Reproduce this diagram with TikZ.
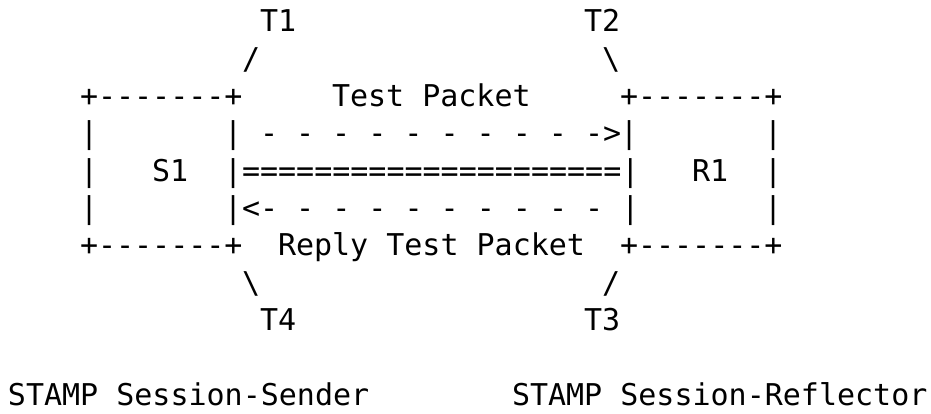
\documentclass[tikz,border=0pt]{standalone}
\usepackage{fontspec}
\setmonofont{DejaVu Sans Mono}
\begin{document}
\begin{tikzpicture}
\tikzset{asc/.style={font=\ttfamily\fontsize{30}{36}\selectfont, inner sep=0pt, outer sep=0pt, anchor=base west, text=black}}
\useasboundingbox[fill=white] (0pt,0pt) rectangle (931pt,-414pt);
\begin{scope}[shift={(8pt,-32pt)}, x=18pt, y=-37.3pt]
% row 0
\node[asc] (t1) at (14,0) {T1};
\node[asc] (t2) at (32,0) {T2};
% row 1
\node[asc] (s1) at (13,1) {/};
\node[asc] (s2) at (33,1) {\textbackslash};
% row 2
\node[asc] (sTop) at (4,2) {+-------+};
\node[asc] (tp) at (18,2) {Test Packet};
\node[asc] (rTop) at (34,2) {+-------+};
% row 3
\node[asc] (sL3) at (4,3) {|};
\node[asc] (sR3) at (12,3) {|};
\node[asc] (fwd) at (14,3) {- - - - - - - - - ->};
\node[asc] (rL3) at (34,3) {|};
\node[asc] (rR3) at (42,3) {|};
% row 4
\node[asc] (sL4) at (4,4) {|};
\node[asc] (S1) at (8,4) {S1};
\node[asc] (link) at (12,4) {|=====================|};
\node[asc] (R1) at (38,4) {R1};
\node[asc] (rR4) at (42,4) {|};
% row 5
\node[asc] (sL5) at (4,5) {|};
\node[asc] (bwd) at (12,5) {|<- - - - - - - - - - |};
\node[asc] (rR5) at (42,5) {|};
% row 6
\node[asc] (sBot) at (4,6) {+-------+};
\node[asc] (rtp) at (15,6) {Reply Test Packet};
\node[asc] (rBot) at (34,6) {+-------+};
% row 7
\node[asc] (s4) at (13,7) {\textbackslash};
\node[asc] (s3) at (33,7) {/};
% row 8
\node[asc] (t4) at (14,8) {T4};
\node[asc] (t3) at (32,8) {T3};
% row 10
\node[asc] (snd) at (0,10) {STAMP Session-Sender};
\node[asc] (rfl) at (28,10) {STAMP Session-Reflector};
\end{scope}
\end{tikzpicture}
\end{document}
